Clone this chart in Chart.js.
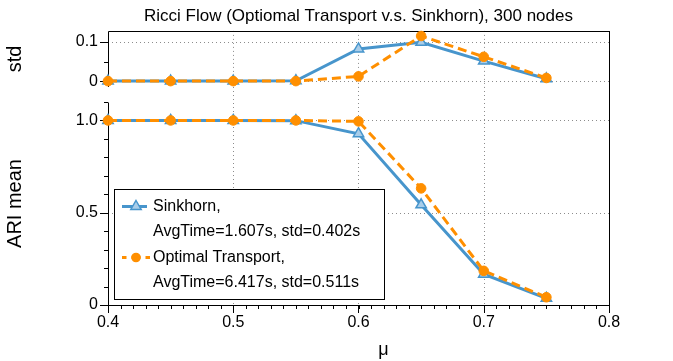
<!DOCTYPE html>
<html>
<head>
<meta charset="utf-8">
<script src="https://cdn.jsdelivr.net/npm/chart.js@4.4.1/dist/chart.umd.min.js"></script>
<style>
  body { margin: 0; background: #fff; }
  #wrap { position: relative; width: 673px; height: 361px; }
  #wrap canvas { position: absolute; left: 0; top: 0; }
</style>
</head>
<body>
<div id="wrap">
  <canvas id="stdChart" width="673" height="361"></canvas>
  <canvas id="ariChart" width="673" height="361"></canvas>
</div>
<script>
// values
const mu = [0.4, 0.45, 0.5, 0.55, 0.6, 0.65, 0.7, 0.75];
const sinkhornStd = [0, 0, 0, 0.001, 0.082, 0.099, 0.051, 0.006];
const otStd = [0, 0, 0, 0, 0.012, 0.115, 0.062, 0.008];
const sinkhornAri = [1, 1, 1, 0.999, 0.928, 0.543, 0.167, 0.036];
const otAri = [1, 1, 1, 1, 0.995, 0.632, 0.185, 0.042];

const muTicks = [0.4, 0.5, 0.6, 0.7, 0.8];
const muTickLabels = ['0.4', '0.5', '0.6', '0.7', '0.8'];
const stdTicks = [0, 0.1];
const stdTickLabels = ['0', '0.1'];
const ariTicks = [0, 0.5, 1.0];
const ariTickLabels = ['0', '0.5', '1.0'];

const seriesNames = ['Sinkhorn,', 'Optimal Transport,'];
const seriesTimes = ['AvgTime=1.607s, std=0.402s', 'AvgTime=6.417s, std=0.511s'];
const chartTitle = 'Ricci Flow (Optiomal Transport v.s. Sinkhorn), 300 nodes';

const FONT = "'Liberation Sans', Arial, Helvetica, sans-serif";
const BLUE = '#4795cc';
const BLUE_FILL = '#a9cde9';
const ORANGE = '#ff8f00';
const GRID = '#8c8c8c';

Chart.defaults.font.family = FONT;
Chart.defaults.font.size = 16;
Chart.defaults.color = '#000';

function points(ys) {
  return mu.map((x, i) => ({ x: x, y: ys[i] }));
}

function sinkhornSet(ys) {
  return {
    label: 'Sinkhorn',
    data: points(ys),
    showLine: true,
    clip: false,
    borderColor: BLUE,
    borderWidth: 3,
    pointStyle: 'triangle',
    pointRadius: 6,
    pointBorderWidth: 1.5,
    pointBorderColor: BLUE,
    pointBackgroundColor: BLUE_FILL
  };
}

function otSet(ys) {
  return {
    label: 'Optimal Transport',
    data: points(ys),
    showLine: true,
    clip: false,
    borderColor: ORANGE,
    borderWidth: 3,
    borderDash: [9, 5],
    pointStyle: 'circle',
    pointRadius: 4.8,
    pointBorderWidth: 1,
    pointBorderColor: ORANGE,
    pointBackgroundColor: ORANGE
  };
}

function px(v) { return Math.round(v) + 0.5; }

function hLine(ctx, x1, x2, y) {
  ctx.beginPath(); ctx.moveTo(x1, px(y)); ctx.lineTo(x2, px(y)); ctx.stroke();
}
function vLine(ctx, x, y1, y2) {
  ctx.beginPath(); ctx.moveTo(px(x), y1); ctx.lineTo(px(x), y2); ctx.stroke();
}

function drawGrid(chart, yTicks, top) {
  const ctx = chart.ctx, a = chart.chartArea;
  const xs = chart.scales.x, ys = chart.scales.y;
  ctx.save();
  ctx.strokeStyle = GRID;
  ctx.lineWidth = 1;
  ctx.setLineDash([1, 3]);
  muTicks.forEach(v => {
    const x = xs.getPixelForValue(v);
    if (x > a.left + 1 && x < a.right - 1) vLine(ctx, x, top, a.bottom);
  });
  yTicks.forEach(v => {
    const y = ys.getPixelForValue(v);
    if (y > a.top + 1 && y < a.bottom - 1) hLine(ctx, a.left, a.right, y);
  });
  ctx.restore();
}

function drawYTicks(chart, major, minorStep, minorFrom, minorTo) {
  const ctx = chart.ctx, a = chart.chartArea, ys = chart.scales.y;
  ctx.save();
  ctx.strokeStyle = '#000';
  ctx.lineWidth = 1;
  for (let v = minorFrom; v <= minorTo + 1e-9; v += minorStep) {
    hLine(ctx, a.left - 4, a.left, ys.getPixelForValue(v));
  }
  major.forEach(v => hLine(ctx, a.left - 8, a.left, ys.getPixelForValue(v)));
  ctx.restore();
}

const stdFrame = {
  id: 'stdFrame',
  beforeDatasetsDraw(chart) {
    const ctx = chart.ctx, a = chart.chartArea;
    drawGrid(chart, stdTicks, a.top);
    ctx.save();
    ctx.strokeStyle = '#000';
    ctx.lineWidth = 1;
    hLine(ctx, px(a.left), px(a.right) + 0.5, a.top);
    vLine(ctx, a.left, px(a.top), a.bottom);
    vLine(ctx, a.right, px(a.top), a.bottom);
    ctx.restore();
    drawYTicks(chart, stdTicks, 0.05, 0, 0.1);
  }
};

let stdChart;

const ariFrame = {
  id: 'ariFrame',
  beforeDatasetsDraw(chart) {
    const ctx = chart.ctx, a = chart.chartArea, xs = chart.scales.x;
    const upper = stdChart ? stdChart.chartArea.bottom : a.top;
    drawGrid(chart, ariTicks, upper);
    ctx.save();
    ctx.strokeStyle = '#000';
    ctx.lineWidth = 1;
    vLine(ctx, a.left, px(a.top), px(a.bottom));
    vLine(ctx, a.right, upper, px(a.bottom));
    hLine(ctx, px(a.left), px(a.right) + 0.5, a.bottom);
    for (let v = 0.4; v <= 0.8 + 1e-9; v += 0.01) {
      vLine(ctx, xs.getPixelForValue(v), a.bottom, a.bottom + 4);
    }
    muTicks.forEach(v => vLine(ctx, xs.getPixelForValue(v), a.bottom, a.bottom + 8));
    ctx.restore();
    drawYTicks(chart, ariTicks, 0.1, 0, 1.1);
  },
  afterDatasetsDraw(chart) {
    const ctx = chart.ctx, a = chart.chartArea, xs = chart.scales.x;
    // legend box
    const bx = Math.round(a.left) + 6, by = Math.round(a.top) + 87;
    ctx.save();
    ctx.fillStyle = '#fff';
    ctx.fillRect(bx, by, 270, 110);
    ctx.strokeStyle = '#000';
    ctx.lineWidth = 1;
    ctx.strokeRect(bx + 0.5, by + 0.5, 270, 110);
    ctx.font = '16px ' + FONT;
    ctx.textBaseline = 'middle';
    ctx.fillStyle = '#000';
    seriesNames.forEach((name, i) => {
      const y = by + 17.5 + i * 51;
      ctx.save();
      ctx.lineWidth = 3;
      if (i === 0) {
        ctx.strokeStyle = BLUE;
        ctx.beginPath(); ctx.moveTo(bx + 8, y); ctx.lineTo(bx + 33, y); ctx.stroke();
        const r = 6, cx = bx + 22;
        ctx.beginPath();
        ctx.moveTo(cx, y - r);
        ctx.lineTo(cx + r * 0.866, y + r * 0.5);
        ctx.lineTo(cx - r * 0.866, y + r * 0.5);
        ctx.closePath();
        ctx.fillStyle = BLUE_FILL;
        ctx.fill();
        ctx.lineWidth = 1.5;
        ctx.stroke();
      } else {
        ctx.strokeStyle = ORANGE;
        ctx.setLineDash([9, 5]);
        ctx.lineDashOffset = 4.5;
        ctx.beginPath(); ctx.moveTo(bx + 8, y); ctx.lineTo(bx + 36, y); ctx.stroke();
        ctx.setLineDash([]);
        ctx.fillStyle = ORANGE;
        ctx.beginPath(); ctx.arc(bx + 22, y, 4.8, 0, Math.PI * 2); ctx.fill();
      }
      ctx.restore();
      ctx.fillText(name, bx + 39, y);
      ctx.fillText(seriesTimes[i], bx + 39, y + 25.5);
    });
    // x axis label
    ctx.font = '18px ' + FONT;
    ctx.textAlign = 'center';
    ctx.textBaseline = 'alphabetic';
    ctx.fillText('\u03bc', xs.getPixelForValue(0.62), 355);
    ctx.restore();
  }
};

function yAxis(min, max, ticks, labels, title) {
  return {
    type: 'linear',
    min: min,
    max: max,
    afterFit(s) { s.width = 108; },
    afterBuildTicks(s) { s.ticks = ticks.map(v => ({ value: v })); },
    grid: { display: false, drawTicks: false },
    border: { display: false },
    ticks: { padding: 10, font: { size: 16 }, callback: (v, i) => labels[i] },
    title: { display: true, text: title, font: { size: 20 }, padding: { top: 3, bottom: 0 } }
  };
}

stdChart = new Chart(document.getElementById('stdChart'), {
  type: 'scatter',
  data: { datasets: [otSet(otStd), sinkhornSet(sinkhornStd)] },
  options: {
    responsive: false,
    animation: false,
    layout: { padding: { left: 0, right: 64, top: 0, bottom: 274 } },
    plugins: {
      legend: { display: false },
      tooltip: { enabled: false },
      title: {
        display: true,
        text: chartTitle,
        fullSize: false,
        font: { size: 17, weight: 'normal' },
        padding: { top: 6.5, bottom: 4 }
      }
    },
    scales: {
      x: { type: 'linear', min: 0.4, max: 0.8, display: false },
      y: yAxis(-0.015, 0.128, stdTicks, stdTickLabels, 'std')
    }
  },
  plugins: [stdFrame]
});

new Chart(document.getElementById('ariChart'), {
  type: 'scatter',
  data: { datasets: [otSet(otAri), sinkhornSet(sinkhornAri)] },
  options: {
    responsive: false,
    animation: false,
    layout: { padding: { left: 0, right: 64, top: 102, bottom: 0 } },
    plugins: { legend: { display: false }, tooltip: { enabled: false } },
    scales: {
      x: {
        type: 'linear',
        min: 0.4,
        max: 0.8,
        afterFit(s) { s.height = 56; },
        afterBuildTicks(s) { s.ticks = muTicks.map(v => ({ value: v })); },
        grid: { display: false, drawTicks: false },
        border: { display: false },
        ticks: { padding: 8, maxRotation: 0, font: { size: 16 }, callback: (v, i) => muTickLabels[i] }
      },
      y: yAxis(0, 1.1, ariTicks, ariTickLabels, 'ARI mean')
    }
  },
  plugins: [ariFrame]
});
</script>
</body>
</html>
